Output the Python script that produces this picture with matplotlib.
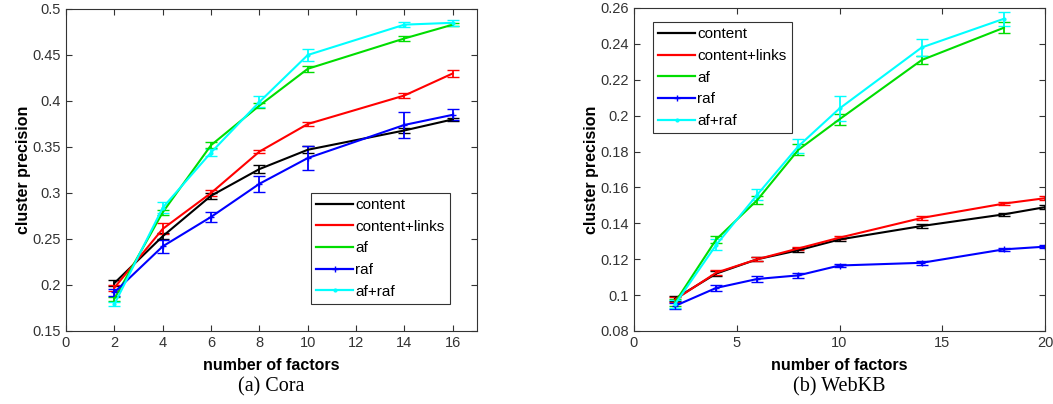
import matplotlib
matplotlib.use("Agg")
import matplotlib.pyplot as plt
from matplotlib.lines import Line2D

# ---- data: Cora ----
cora_x = [2, 4, 6, 8, 10, 14, 16]
cora_content = [0.202, 0.253, 0.297, 0.326, 0.347, 0.368, 0.380]
cora_content_err = [0.003, 0.003, 0.003, 0.004, 0.004, 0.003, 0.002]
cora_links = [0.197, 0.261, 0.300, 0.345, 0.375, 0.406, 0.430]
cora_links_err = [0.003, 0.006, 0.003, 0.002, 0.002, 0.003, 0.004]
cora_af = [0.185, 0.279, 0.352, 0.395, 0.435, 0.468, 0.483]
cora_af_err = [0.002, 0.003, 0.003, 0.003, 0.003, 0.003, 0.002]
cora_raf = [0.192, 0.242, 0.274, 0.310, 0.338, 0.374, 0.385]
cora_raf_err = [0.004, 0.007, 0.005, 0.009, 0.013, 0.014, 0.006]
cora_afraf = [0.179, 0.284, 0.344, 0.399, 0.450, 0.483, 0.485]
cora_afraf_err = [0.002, 0.006, 0.004, 0.006, 0.007, 0.003, 0.003]

# ---- data: WebKB ----
web_x = [2, 4, 6, 8, 10, 14, 18, 20]
web_x_short = [2, 4, 6, 8, 10, 14, 18]
web_content = [0.098, 0.112, 0.120, 0.125, 0.131, 0.1385, 0.145, 0.149]
web_content_err = [0.0015, 0.0015, 0.001, 0.001, 0.001, 0.001, 0.001, 0.001]
web_links = [0.0975, 0.1125, 0.120, 0.126, 0.132, 0.143, 0.151, 0.154]
web_links_err = [0.0015, 0.0015, 0.001, 0.001, 0.001, 0.001, 0.001, 0.001]
web_af = [0.096, 0.131, 0.153, 0.181, 0.198, 0.231, 0.249]
web_af_err = [0.002, 0.002, 0.002, 0.003, 0.003, 0.002, 0.003]
web_raf = [0.094, 0.104, 0.109, 0.111, 0.1165, 0.118, 0.1255, 0.127]
web_raf_err = [0.0015, 0.0015, 0.0015, 0.0015, 0.001, 0.001, 0.001, 0.001]
web_afraf = [0.095, 0.128, 0.156, 0.183, 0.204, 0.238, 0.254]
web_afraf_err = [0.002, 0.003, 0.003, 0.004, 0.007, 0.005, 0.004]

labels = ["content", "content+links", "af", "raf", "af+raf"]
colors = ["#000000", "#ff0000", "#00dd00", "#0000ff", "#00ffff"]
markers = [None, None, None, "+", "."]

plt.rcParams["font.family"] = ["Liberation Sans", "DejaVu Sans"]
AXC = "#333333"

fig = plt.figure(figsize=(10.53, 4.04), dpi=100)
W, H = 1053, 404
ax1 = fig.add_axes([66 / W, 1 - 331 / H, (477 - 66) / W, (331 - 9) / H])
ax2 = fig.add_axes([634 / W, 1 - 331 / H, (1045 - 634) / W, (331 - 8) / H])

def draw(ax, series):
    for (x, y, e), lab, c, m in zip(series, labels, colors, markers):
        ax.errorbar(x, y, yerr=e, color=c, lw=1.5, capsize=4, capthick=1.3,
                    elinewidth=1.3, marker=m, markersize=4, markeredgewidth=1)

cora_series = [
    (cora_x, cora_content, cora_content_err),
    (cora_x, cora_links, cora_links_err),
    (cora_x, cora_af, cora_af_err),
    (cora_x, cora_raf, cora_raf_err),
    (cora_x, cora_afraf, cora_afraf_err),
]
web_series = [
    (web_x, web_content, web_content_err),
    (web_x, web_links, web_links_err),
    (web_x_short, web_af, web_af_err),
    (web_x, web_raf, web_raf_err),
    (web_x_short, web_afraf, web_afraf_err),
]
draw(ax1, cora_series)
draw(ax2, web_series)

ax1.set_xlim(0, 17)
ax1.set_ylim(0.15, 0.5)
ax1.set_xticks([0, 2, 4, 6, 8, 10, 12, 14, 16])
ax1.set_yticks([0.15, 0.2, 0.25, 0.3, 0.35, 0.4, 0.45, 0.5])
ax1.set_yticklabels(["0.15", "0.2", "0.25", "0.3", "0.35", "0.4", "0.45", "0.5"])

ax2.set_xlim(0, 20)
ax2.set_ylim(0.08, 0.26)
ax2.set_xticks([0, 5, 10, 15, 20])
ax2.set_yticks([0.08, 0.1, 0.12, 0.14, 0.16, 0.18, 0.2, 0.22, 0.24, 0.26])
ax2.set_yticklabels(["0.08", "0.1", "0.12", "0.14", "0.16", "0.18", "0.2", "0.22", "0.24", "0.26"])

for ax in (ax1, ax2):
    ax.tick_params(direction="in", top=True, right=True, labelsize=10.5, length=4,
                   width=0.8, color=AXC, labelcolor=AXC)
    ax.set_xlabel("number of factors", fontsize=11.5, fontweight="bold", labelpad=6)
    ax.set_ylabel("cluster precision", fontsize=11.5, fontweight="bold", labelpad=1)
    for s in ax.spines.values():
        s.set_linewidth(0.8)
        s.set_color(AXC)

handles = [Line2D([], [], color=c, lw=1.6, marker=m, markersize=4, markeredgewidth=1)
           for c, m in zip(colors, markers)]

leg_kw = dict(fontsize=11, frameon=True, fancybox=False, edgecolor="black",
              handlelength=2.4, handletextpad=0.15, borderpad=0.35, labelspacing=0.5,
              borderaxespad=0.0)
l1 = ax1.legend(handles, labels, loc="lower left",
                bbox_to_anchor=((311 - 66) / 411, (331 - 304) / 322), **leg_kw)
l2 = ax2.legend(handles, labels, loc="upper left",
                bbox_to_anchor=((653 - 634) / 411, (331 - 22) / 323), **leg_kw)
for l in (l1, l2):
    l.get_frame().set_linewidth(0.8)

fig.text(271 / W, 1 - 387 / H, "(a) Cora", ha="center", va="center",
         fontsize=14.5, family=["Liberation Serif", "DejaVu Serif"])
fig.text(839 / W, 1 - 387 / H, "(b) WebKB", ha="center", va="center",
         fontsize=14.5, family=["Liberation Serif", "DejaVu Serif"])

fig.savefig("out.png", dpi=100)
